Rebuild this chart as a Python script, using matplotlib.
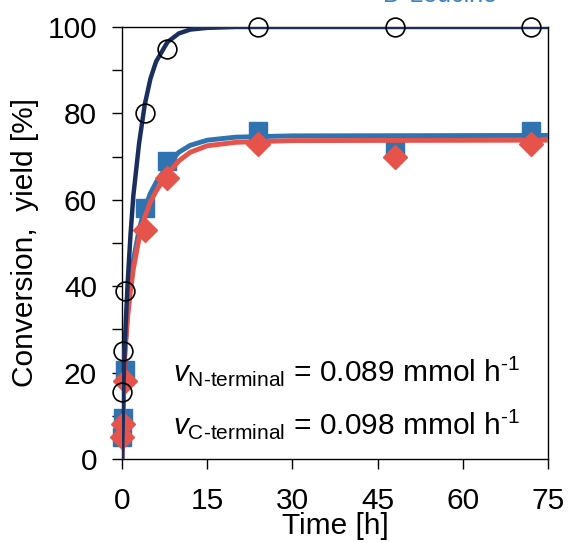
import matplotlib
matplotlib.use("Agg")
import matplotlib.pyplot as plt
from matplotlib.ticker import MultipleLocator

plt.rcParams["font.family"] = ["Liberation Sans", "DejaVu Sans"]
plt.rcParams["mathtext.fontset"] = "custom"
plt.rcParams["mathtext.rm"] = "Liberation Sans"
plt.rcParams["mathtext.it"] = "Liberation Sans:italic"

# ── Measured points ───────────────────────────────────────────────────────────
t_conv = [0.083, 0.17, 0.5, 4, 8, 24, 48, 72]
conversion = [15.5, 25, 39, 80, 95, 100, 100, 100]

t_yield = [0.083, 0.17, 0.5, 4, 8, 24, 48, 72]
yield_n = [5, 9.5, 20.5, 58, 69, 76, 72.5, 76]
yield_c = [5, 8, 18, 53, 65, 73, 70, 73]

# ── Fitted curves ─────────────────────────────────────────────────────────────
t_fit = [0, 0.25, 0.5, 1, 1.5, 2, 3, 4, 5, 6, 8, 10, 12, 15, 20, 30, 75]
fit_conv = [0, 17, 27, 41, 52, 61, 73, 82, 88, 92, 96.5, 98.5, 99.4, 99.8, 100, 100, 100]
fit_n = [0, 16, 25, 34.5, 41, 46, 53, 58, 61.5, 64, 68, 71, 72.6, 73.8, 74.5, 74.8, 74.9]
fit_c = [0, 15, 24, 33, 39, 44, 51, 56, 59.5, 62, 66, 69, 71, 72.5, 73.3, 73.7, 73.8]

NAVY = "#1b2f5e"
BLUE = "#2f73b0"
RED = "#e5534b"
FS = 21.5

fig = plt.figure(figsize=(5.72, 5.43), dpi=100)
ax = fig.add_axes([0.2133, 0.1547, 0.7447, 0.7956])

ax.plot(t_yield, yield_n, "s", color=BLUE, markersize=13, zorder=2, clip_on=False)
ax.plot(t_fit, fit_n, "-", color=BLUE, linewidth=3.5, zorder=3)
ax.plot(t_fit, fit_c, "-", color=RED, linewidth=3.5, zorder=4)
ax.plot(t_yield, yield_c, "D", color=RED, markersize=12, zorder=5, clip_on=False)
ax.plot(t_fit, fit_conv, "-", color=NAVY, linewidth=3.2, zorder=6)
ax.plot(t_conv, conversion, "o", markerfacecolor="none", markeredgecolor="black",
        markeredgewidth=1.2, markersize=13.5, zorder=7, clip_on=False)

ax.set_xlim(0, 75)
ax.set_ylim(0, 100)
ax.xaxis.set_major_locator(MultipleLocator(15))
ax.yaxis.set_major_locator(MultipleLocator(20))
ax.yaxis.set_minor_locator(MultipleLocator(10))
ax.tick_params(axis="both", which="both", direction="out", length=7, width=1,
               labelsize=FS, pad=11)
ax.tick_params(axis="x", pad=13)
ax.tick_params(right=False, top=False)
for s in ax.spines.values():
    s.set_linewidth(1)

ax.set_xlabel("Time [h]", fontsize=FS, labelpad=-2)
ax.set_ylabel("Conversion,  yield [%]", fontsize=FS, labelpad=6)

ax.text(9, 18, r"$v_{\text{N-terminal}}$ = 0.089 mmol h$^{\text{-1}}$", fontsize=FS,
        ha="left", va="baseline")
ax.text(9, 5.8, r"$v_{\text{C-terminal}}$ = 0.098 mmol h$^{\text{-1}}$", fontsize=FS,
        ha="left", va="baseline")

fig.text(0.769, 0.996, "D-Leucine", fontsize=18, color="#3f80c0",
         ha="center", va="baseline")

fig.savefig("out.png", dpi=100)
